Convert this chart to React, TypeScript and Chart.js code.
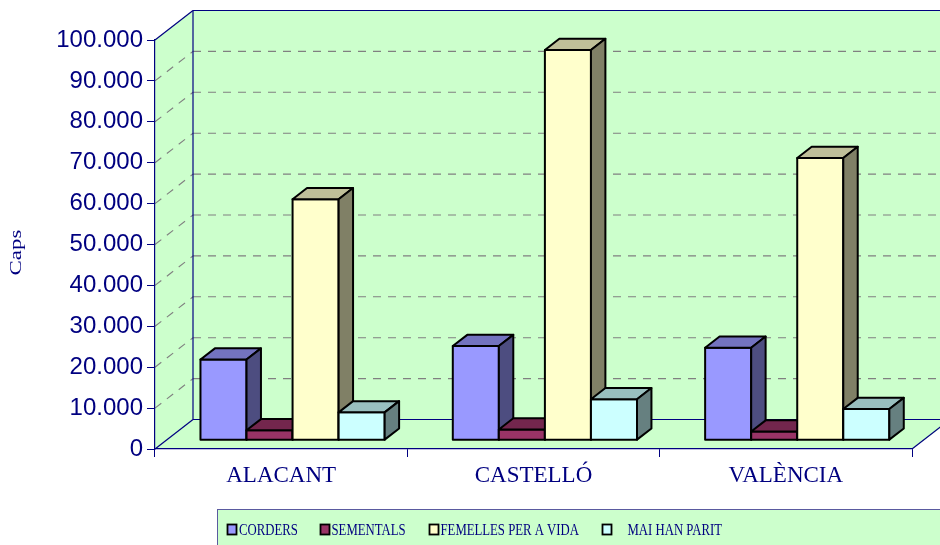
import React, { useEffect, useRef } from 'react';
import { Chart, registerables } from 'chart.js';

Chart.register(...registerables);

const categories = ['ALACANT', 'CASTELLÓ', 'VALÈNCIA'];
const seriesNames = ['CORDERS', 'SEMENTALS', 'FEMELLES PER A VIDA', 'MAI HAN PARIT'];
const corders = [19700, 23000, 22600];
const sementals = [2400, 2600, 2100];
const femelles = [58900, 95400, 69000];
const maiHanParit = [6800, 10000, 7600];
const yMax = 100000;
const yStep = 10000;
const axisTitle = 'Caps';

const frontColors = ['#9999FF', '#993366', '#FFFFCC', '#CCFFFF'];
const topColors = ['#7373BF', '#73264D', '#BFBF99', '#99BFBF'];
const sideColors = ['#4D4D80', '#4D1A33', '#808066', '#668080'];

const NAVY = '#000080';
const WALL = '#CCFFCC';
const DX = 38;
const DY = -29.5;
const T0 = 0.3;
const T1 = 0.68;

function fmt(v: number): string {
  return String(Math.round(v)).replace(/\B(?=(\d{3})+(?!\d))/g, '.');
}

function poly(ctx: CanvasRenderingContext2D, pts: number[][]) {
  ctx.beginPath();
  ctx.moveTo(pts[0][0], pts[0][1]);
  for (let k = 1; k < pts.length; k++) ctx.lineTo(pts[k][0], pts[k][1]);
  ctx.closePath();
}

function line(ctx: CanvasRenderingContext2D, x0: number, y0: number, x1: number, y1: number) {
  ctx.beginPath();
  ctx.moveTo(x0, y0);
  ctx.lineTo(x1, y1);
  ctx.stroke();
}

const threeD = {
  id: 'threeD',
  beforeDraw(chart: any) {
    const { ctx, chartArea: a } = chart;
    const ys = chart.scales.y;
    const W = chart.width;
    const L = a.left, R = a.right, T = a.top, B = a.bottom;
    ctx.save();
    ctx.fillStyle = WALL;
    ctx.fillRect(L + DX, T + DY, W - (L + DX), B - T);
    poly(ctx, [[L, T], [L + DX, T + DY], [L + DX, B + DY], [L, B]]);
    ctx.fill();
    poly(ctx, [[L, B], [L + DX, B + DY], [R + DX + 2, B + DY], [R, B]]);
    ctx.fill();

    // gridlines
    ctx.strokeStyle = '#808080';
    ctx.lineWidth = 1.1;
    ctx.setLineDash([8, 7]);
    for (let v = yStep; v < yMax; v += yStep) {
      const yy = ys.getPixelForValue(v);
      line(ctx, L + DX, yy + DY, W, yy + DY);
      line(ctx, L, yy, L + DX, yy + DY);
    }
    ctx.setLineDash([]);

    // edges
    ctx.strokeStyle = NAVY;
    ctx.lineWidth = 1.2;
    line(ctx, L + DX, T + DY, W, T + DY);
    line(ctx, L + DX, T + DY, L + DX, B + DY);
    line(ctx, L + DX, B + DY, W, B + DY);
    line(ctx, L, T, L + DX, T + DY);
    line(ctx, L, B, L + DX, B + DY);
    line(ctx, R, B, R + DX, B + DY);

    // axis title
    ctx.fillStyle = NAVY;
    ctx.font = '17px "Liberation Serif"';
    ctx.textAlign = 'center';
    ctx.textBaseline = 'middle';
    ctx.translate(17, (T + B) / 2 + 8);
    ctx.rotate(-Math.PI / 2);
    ctx.scale(1.35, 1);
    ctx.fillText(axisTitle, 0, 0);
    ctx.restore();
  },
  beforeDatasetDraw() {
    return false;
  },
  afterDatasetsDraw(chart: any) {
    const ctx = chart.ctx;
    const n = chart.data.labels.length;
    const fx = DX * T0, fy = DY * T0;
    const dx = DX * (T1 - T0), dy = DY * (T1 - T0);
    ctx.save();
    ctx.strokeStyle = '#000000';
    ctx.lineWidth = 2;
    ctx.lineJoin = 'round';
    for (let j = 0; j < n; j++) {
      for (let i = 0; i < chart.data.datasets.length; i++) {
        const el = chart.getDatasetMeta(i).data[j];
        const p = el.getProps(['x', 'y', 'base', 'width'], true);
        const x0 = p.x - p.width / 2 + fx;
        const x1 = p.x + p.width / 2 + fx;
        const yt = p.y + fy;
        const yb = p.base + fy;
        ctx.fillStyle = frontColors[i];
        poly(ctx, [[x0, yt], [x1, yt], [x1, yb], [x0, yb]]);
        ctx.fill();
        ctx.stroke();
        ctx.fillStyle = topColors[i];
        poly(ctx, [[x0, yt], [x0 + dx, yt + dy], [x1 + dx, yt + dy], [x1, yt]]);
        ctx.fill();
        ctx.stroke();
        ctx.fillStyle = sideColors[i];
        poly(ctx, [[x1, yt], [x1 + dx, yt + dy], [x1 + dx, yb + dy], [x1, yb]]);
        ctx.fill();
        ctx.stroke();
      }
    }
    ctx.restore();
  },
  afterDraw(chart: any) {
    const ctx = chart.ctx;
    ctx.save();
    ctx.fillStyle = WALL;
    ctx.fillRect(217.5, 509.5, 740, 45);
    ctx.strokeStyle = '#5A5AA0';
    ctx.lineWidth = 1;
    ctx.strokeRect(217.5, 509.5, 740, 45);
    const markerX = [227.5, 320.5, 429.5, 602.5];
    const textOff = [11.5, 11, 11, 25];
    ctx.font = '17px "Liberation Serif"';
    ctx.textAlign = 'left';
    ctx.textBaseline = 'middle';
    for (let k = 0; k < seriesNames.length; k++) {
      ctx.fillStyle = frontColors[k];
      ctx.fillRect(markerX[k], 524.5, 9, 10);
      ctx.strokeStyle = '#000000';
      ctx.lineWidth = 1.8;
      ctx.strokeRect(markerX[k], 524.5, 9, 10);
      ctx.save();
      ctx.translate(markerX[k] + textOff[k], 530.5);
      ctx.scale(0.75, 1);
      ctx.fillStyle = NAVY;
      ctx.fillText(seriesNames[k], 0, 0);
      ctx.restore();
    }
    ctx.restore();
  },
};

export default function App() {
  const ref = useRef<HTMLCanvasElement | null>(null);
  useEffect(() => {
    if (!ref.current) return;
    const chart = new Chart(ref.current, {
      type: 'bar',
      data: {
        labels: categories,
        datasets: [
          { label: seriesNames[0], data: corders, backgroundColor: frontColors[0] },
          { label: seriesNames[1], data: sementals, backgroundColor: frontColors[1] },
          { label: seriesNames[2], data: femelles, backgroundColor: frontColors[2] },
          { label: seriesNames[3], data: maiHanParit, backgroundColor: frontColors[3] },
        ],
      },
      options: {
        responsive: false,
        animation: false,
        layout: { padding: { top: 40, right: 28, left: 0, bottom: 0 } },
        plugins: { legend: { display: false }, tooltip: { enabled: false } },
        datasets: { bar: { categoryPercentage: 0.73, barPercentage: 1.0 } },
        scales: {
          x: {
            offset: true,
            grid: { display: true, drawOnChartArea: false, offset: true, tickLength: 8, color: NAVY, lineWidth: 1 },
            border: { display: true, color: NAVY, width: 1.2 },
            ticks: { color: NAVY, font: { family: '"Liberation Serif"', size: 23 }, padding: 5, maxRotation: 0 },
            afterFit: (s: any) => { s.height = 96; },
          },
          y: {
            min: 0,
            max: yMax,
            grid: { display: true, drawOnChartArea: false, tickLength: 8, color: NAVY, lineWidth: 1 },
            border: { display: true, color: NAVY, width: 1.2 },
            ticks: {
              stepSize: yStep,
              color: NAVY,
              padding: 4,
              font: { family: '"Liberation Sans"', size: 24 },
              callback: (v: any) => fmt(Number(v)),
            },
            afterFit: (s: any) => { s.width = 155; },
          },
        },
      },
      plugins: [threeD],
    } as any);
    return () => chart.destroy();
  }, []);
  return (
    <div style={{ position: 'fixed', left: 0, top: 0, width: 940, height: 545, background: '#fff' }}>
      <canvas ref={ref} width={940} height={545} style={{ display: 'block' }} />
    </div>
  );
}
